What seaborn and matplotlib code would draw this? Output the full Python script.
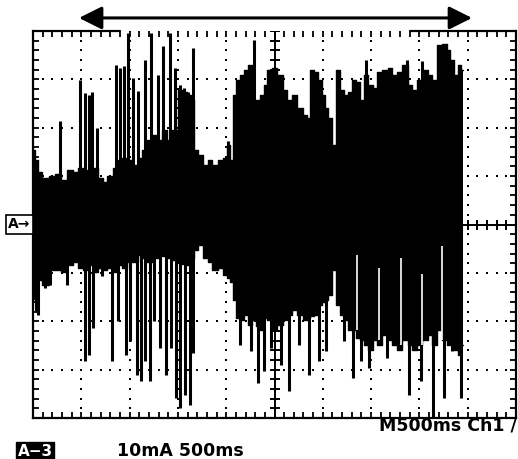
import numpy as np
import pandas as pd
import matplotlib.pyplot as plt
import seaborn as sns

sns.set_theme(style="white")
plt.rcParams['font.family'] = ['DejaVu Sans']
plt.rcParams['text.color'] = 'black'

# scope settings: 500 ms / div, 10 mA / div, 10 x 8 divisions
sec_per_div = 0.5
ma_per_div = 10

# dense part of the trace (time in s, upper / lower edge in mA)
trace_t = [0.000, 0.041, 0.072, 0.124, 0.197, 0.259, 0.321, 0.383, 0.435, 0.487,
           0.538, 0.590, 0.642, 0.694, 0.745, 0.797, 0.849, 0.901, 0.952, 1.004,
           1.056, 1.108, 1.159, 1.211, 1.263, 1.315, 1.366, 1.418, 1.470, 1.522,
           1.573, 1.625, 1.656, 1.687, 1.729, 1.781, 1.832, 1.884, 1.936, 1.988,
           2.019, 2.060, 2.091, 2.122, 2.164, 2.205, 2.246, 2.288, 2.329, 2.371,
           2.402, 2.453, 2.505, 2.557, 2.609, 2.660, 2.712, 2.764, 2.816, 2.857,
           2.888, 2.930, 2.971, 3.012, 3.033, 3.075, 3.116, 3.157, 3.199, 3.240,
           3.282, 3.323, 3.364, 3.406, 3.447, 3.489, 3.540, 3.592, 3.644, 3.696,
           3.747, 3.799, 3.851, 3.903, 3.954, 4.006, 4.058, 4.110, 4.161, 4.213,
           4.265, 4.306, 4.337, 4.379, 4.420, 4.451]
trace_hi = [15.4, 13.3, 10.9, 9.6, 10.0, 10.5, 9.2, 11.3, 10.9, 11.7,
            11.3, 10.9, 11.7, 9.6, 8.8, 10.0, 11.7, 13.3, 13.8, 13.3,
            12.3, 13.8, 15.4, 17.5, 18.5, 17.5, 19.5, 17.5, 19.5, 27.8,
            27.4, 26.8, 25.7, 15.4, 14.4, 12.3, 13.3, 12.3, 13.3, 13.8,
            16.4, 13.3, 26.8, 29.9, 30.9, 31.9, 33.0, 25.7, 25.7, 26.8,
            28.8, 31.9, 32.4, 30.9, 27.8, 25.7, 26.8, 24.1, 22.6, 22.0,
            31.9, 31.5, 29.9, 26.8, 24.1, 22.0, 16.4, 31.9, 27.8, 26.8,
            27.4, 29.9, 29.5, 25.7, 30.9, 28.8, 28.2, 31.5, 31.9, 32.4,
            30.9, 31.5, 33.0, 28.8, 27.8, 29.9, 31.9, 30.9, 29.9, 37.1,
            37.3, 36.1, 34.0, 30.9, 33.0, 31.9]
trace_lo = [-15.4, -11.8, -11.4, -12.5, -9.4, -9.4, -9.8, -8.3, -7.7, -9.0,
            -9.4, -8.3, -9.8, -9.0, -9.4, -9.0, -9.8, -8.3, -9.0, -7.7,
            -7.7, -6.3, -6.9, -7.7, -6.9, -6.3, -6.5, -6.9, -7.3, -7.7,
            -8.1, -8.3, -6.9, -5.2, -4.2, -6.9, -7.7, -9.4, -9.0, -10.4,
            -11.0, -11.9, -15.6, -19.3, -19.7, -18.7, -20.7, -19.7, -21.0, -21.8,
            -19.3, -19.7, -21.8, -20.7, -19.7, -18.7, -17.6, -18.7, -19.7, -19.3,
            -18.9, -18.7, -16.6, -16.0, -15.6, -14.5, -9.4, -16.6, -18.7, -19.7,
            -21.8, -21.8, -23.5, -23.8, -24.9, -25.9, -23.8, -24.9, -22.8, -23.8,
            -24.9, -25.9, -23.8, -24.9, -25.9, -24.9, -23.8, -22.8, -24.9, -21.8,
            -23.8, -24.9, -24.9, -25.9, -26.9, -24.9]

# single peaks above the dense part
spike_up_t = [0.280, 0.487, 0.538, 0.580, 0.611, 0.663, 0.859, 0.901, 0.942, 0.983,
              1.035, 1.087, 1.159, 1.222, 1.294, 1.346, 1.418, 1.470, 1.522, 1.563,
              1.605, 1.656, 2.019, 2.288, 3.447, 3.872, 4.027]
spike_up_ma = [21.4, 29.9, 27.2, 26.8, 27.4, 19.9, 33.0, 32.4, 32.8, 39.6,
               30.3, 27.6, 34.0, 39.6, 30.9, 36.9, 39.6, 32.4, 28.8, 28.2,
               27.4, 36.5, 17.3, 38.1, 34.0, 34.0, 33.8]

# single peaks below the dense part
spike_dn_t = [0.031, 0.052, 0.124, 0.176, 0.352, 0.538, 0.580, 0.621, 0.714, 0.818,
              0.880, 0.963, 1.004, 1.077, 1.118, 1.159, 1.211, 1.253, 1.315, 1.377,
              1.429, 1.480, 1.522, 1.573, 1.625, 1.656, 2.143, 2.257, 2.329, 2.391,
              2.464, 2.567, 2.650, 2.754, 2.857, 2.961, 3.033, 3.219, 3.313, 3.395,
              3.478, 3.665, 3.892, 4.017, 4.141, 4.255, 4.337, 4.431]
spike_dn_ma = [-17.9, -18.7, -13.1, -12.5, -12.5, -28.2, -27.0, -21.4, -10.6, -28.2,
               -19.9, -27.0, -24.1, -31.1, -32.3, -28.2, -32.3, -19.9, -25.5, -31.1,
               -25.5, -35.8, -37.9, -35.2, -37.3, -26.5, -24.9, -26.2, -32.7, -30.3,
               -25.5, -29.0, -34.4, -24.9, -31.1, -28.2, -26.2, -24.1, -31.7, -28.2,
               -29.7, -27.6, -35.2, -32.3, -40.0, -35.8, -26.2, -35.8]

# white gaps inside the lower half of the trace
gap_t = [3.354, 3.582, 3.810, 4.027, 4.234]
gap_hi = [-6.3, -9.0, -6.9, -10.2, -4.5]
gap_lo = [-21.8, -23.8, -24.9, -24.9, -23.8]

# measurement window arrow (s)
arrow_start, arrow_end = 0.476, 4.545

fig = plt.figure(figsize=(5.18, 4.59), dpi=100)
ax = fig.add_axes([33 / 518, 41 / 459, 483 / 518, 387 / 459])
t_max = 10 * sec_per_div
i_max = 4 * ma_per_div
ax.set_xlim(0, t_max)
ax.set_ylim(-i_max, i_max)

# graticule: dotted division lines, solid centre cross with small ticks
minor_t = np.arange(0, t_max + 1e-9, sec_per_div / 5)
minor_i = np.arange(-i_max, i_max + 1e-9, ma_per_div / 5)
for k in range(1, 10):
    if k == 5:
        continue
    ax.plot(np.full(len(minor_i), k * sec_per_div), minor_i, ls='none', marker='s',
            ms=1.6, mew=0, color='black', zorder=1)
for k in range(-3, 4):
    if k == 0:
        continue
    ax.plot(minor_t, np.full(len(minor_t), k * ma_per_div), ls='none', marker='s',
            ms=1.6, mew=0, color='black', zorder=1)
ax.axhline(0, color='black', lw=1.4, zorder=1)
ax.axvline(t_max / 2, color='black', lw=1.4, zorder=1)
ax.plot(minor_t, np.zeros(len(minor_t)), ls='none', marker='|', ms=7, mew=1.4,
        color='black', zorder=1)
ax.plot(np.full(len(minor_i), t_max / 2), minor_i, ls='none', marker='_', ms=7,
        mew=1.4, color='black', zorder=1)

# trace
df = pd.DataFrame({'t': trace_t, 'hi': trace_hi, 'lo': trace_lo})
ax.fill_between(df['t'], df['lo'], df['hi'], step='mid', color='black', lw=0, zorder=3)
sns.lineplot(data=df, x='t', y='hi', color='black', lw=1, drawstyle='steps-mid',
             ax=ax, zorder=3)
sns.lineplot(data=df, x='t', y='lo', color='black', lw=1, drawstyle='steps-mid',
             ax=ax, zorder=3)
ax.vlines(spike_up_t, 0, spike_up_ma, color='black', lw=2.2, zorder=3)
ax.vlines(spike_dn_t, 0, spike_dn_ma, color='black', lw=2.2, zorder=3)
ax.vlines(gap_t, gap_lo, gap_hi, color='white', lw=1.2, zorder=4)

# frame with ticks; top edge only partly solid
ax.set_xticks(minor_t)
ax.set_yticks(minor_i)
ax.set_xticklabels([])
ax.set_yticklabels([])
ax.tick_params(which='both', direction='in', length=4, width=1.3, color='black',
               top=True, right=True, bottom=True, left=True, pad=0)
for side in ['left', 'right', 'bottom']:
    ax.spines[side].set_color('black')
    ax.spines[side].set_linewidth(1.6)
ax.spines['top'].set_visible(False)
ax.plot([0, 0.90], [i_max, i_max], color='black', lw=1.6, clip_on=False, zorder=5)
ax.plot([3.90, t_max], [i_max, i_max], color='black', lw=1.6, clip_on=False, zorder=5)
ax.set_xlabel('')
ax.set_ylabel('')

ax.annotate('', xy=(arrow_end, 42.7), xytext=(arrow_start, 42.7),
            arrowprops=dict(arrowstyle='<|-|>,head_length=0.7,head_width=0.35',
                            color='black', lw=2.2, mutation_scale=20,
                            shrinkA=0, shrinkB=0),
            annotation_clip=False)

# labels
fig.text(19.5 / 518, 1 - 224.5 / 459, 'A\u2192', fontsize=10, fontweight='bold',
         color='black', ha='center', va='center',
         bbox=dict(boxstyle='square,pad=0.15', fc='white', ec='black', lw=1.2))
fig.text(35 / 518, 1 - 451.5 / 459, 'A\u22123', fontsize=11, fontweight='bold',
         color='white', ha='center', va='center',
         bbox=dict(boxstyle='square,pad=0.12', fc='black', ec='black'))
fig.text(117 / 518, 1 - 451.5 / 459, '10mA 500ms', fontsize=12.5, fontweight='bold',
         color='black', ha='left', va='center')
fig.text(517 / 518, 1 - 425 / 459, 'M500ms Ch1 /', fontsize=12.5, fontweight='bold',
         color='black', ha='right', va='center')

fig.savefig('out.png', dpi=100)
